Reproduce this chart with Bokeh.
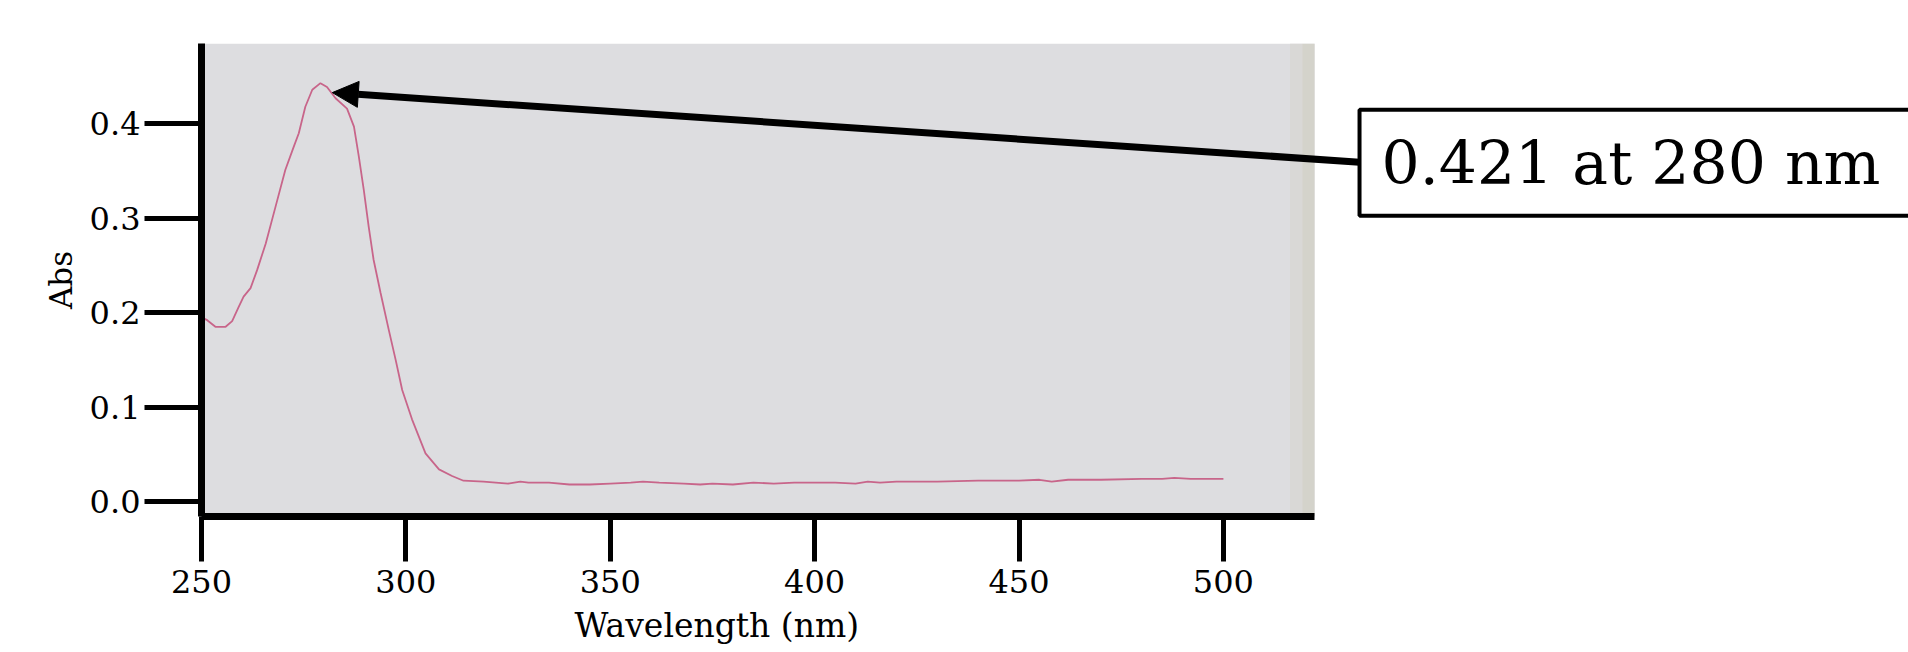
from bokeh.plotting import figure
from bokeh.models import Range1d, FixedTicker, Label, Arrow, NormalHead, Title
from bokeh.embed import file_html
from bokeh.resources import INLINE

# ---- data ----
wavelength = [250.0, 251.4, 253.4, 255.9, 257.5, 259.1, 260.3, 262.0, 263.6, 265.7,
              268.1, 270.5, 272.6, 273.8, 275.4, 277.1, 279.1, 280.7, 282.8, 285.6,
              287.3, 288.5, 289.7, 290.9, 292.1, 293.8, 295.8, 297.5, 299.1, 301.5,
              304.8, 308.1, 311.3, 314.1, 319.0, 325.0, 328.0, 330.0, 335.0, 340.0,
              345.0, 350.0, 355.0, 358.0, 362.0, 368.0, 372.0, 375.0, 380.0, 385.0,
              390.0, 395.0, 400.0, 405.0, 410.0, 413.0, 416.0, 420.0, 425.0, 430.0,
              440.0, 450.0, 455.0, 458.0, 462.0, 470.0, 480.0, 485.0, 488.0, 492.0,
              496.0, 500.0]
absorbance = [0.195, 0.192, 0.185, 0.185, 0.191, 0.206, 0.217, 0.226, 0.245, 0.273,
              0.312, 0.351, 0.376, 0.390, 0.418, 0.436, 0.443, 0.439, 0.427, 0.416,
              0.397, 0.365, 0.330, 0.291, 0.256, 0.221, 0.182, 0.150, 0.118, 0.087,
              0.051, 0.034, 0.027, 0.022, 0.021, 0.019, 0.021, 0.020, 0.020, 0.018,
              0.018, 0.019, 0.020, 0.021, 0.020, 0.019, 0.018, 0.019, 0.018, 0.020,
              0.019, 0.020, 0.020, 0.020, 0.019, 0.021, 0.020, 0.021, 0.021, 0.021,
              0.022, 0.022, 0.023, 0.021, 0.023, 0.023, 0.024, 0.024, 0.025, 0.024,
              0.024, 0.024]

x_ticks = [250, 300, 350, 400, 450, 500]
x_tick_labels = ["250", "300", "350", "400", "450", "500"]
y_ticks = [0.0, 0.1, 0.2, 0.3, 0.4]
y_tick_labels = ["0.0", "0.1", "0.2", "0.3", "0.4"]

peak_label = "0.421 at 280 nm"
peak_point = (282.0, 0.433)      # where the arrow points
box_anchor = (533.3, 0.3588)     # left edge / vertical middle of the call-out box
arrow_start = (533.3, 0.3593)    # where the arrow leaves the box

X_MIN, X_PANEL_END, X_MAX = 250.0, 522.3, 667.6
Y_MIN, Y_MAX = -0.0159, 0.485

FONT = "DejaVu Serif"

p = figure(width=1908, height=652, output_backend="svg", toolbar_location=None,
           x_range=Range1d(X_MIN, X_MAX), y_range=Range1d(Y_MIN, Y_MAX),
           min_border_left=201, min_border_right=0, min_border_top=43,
           min_border_bottom=135)

p.background_fill_color = "white"
p.border_fill_color = "white"
p.outline_line_color = None
p.xgrid.visible = False
p.ygrid.visible = False

# grey photographed chart paper (slightly beige towards its right edge)
p.quad(left=[X_MIN], right=[X_PANEL_END], bottom=[Y_MIN], top=[Y_MAX],
       fill_color="#dddde0", line_color=None)
p.quad(left=[X_PANEL_END - 6.0], right=[X_PANEL_END - 3.0], bottom=[Y_MIN], top=[Y_MAX],
       fill_color="#d9d8d6", line_color=None)
p.quad(left=[X_PANEL_END - 3.0], right=[X_PANEL_END], bottom=[Y_MIN], top=[Y_MAX],
       fill_color="#d4d3cb", line_color=None)

p.line(wavelength, absorbance, line_color="#c8658a", line_width=1.8)

# axes
p.xaxis.ticker = FixedTicker(ticks=x_ticks)
p.xaxis.major_label_overrides = dict(zip(x_ticks, x_tick_labels))
p.xaxis.bounds = (X_MIN, X_PANEL_END)
p.yaxis.ticker = FixedTicker(ticks=y_ticks)
p.yaxis.major_label_overrides = dict(zip(y_ticks, y_tick_labels))

for ax in (p.xaxis[0], p.yaxis[0]):
    ax.axis_line_color = "black"
    ax.axis_line_width = 7
    ax.major_tick_line_color = "black"
    ax.major_tick_line_width = 5
    ax.major_tick_in = 0
    ax.minor_tick_line_color = None
    ax.major_label_text_font = FONT
    ax.major_label_text_font_size = "32px"
    ax.major_label_text_color = "black"
    ax.axis_label_text_font = FONT
    ax.axis_label_text_font_style = "normal"
    ax.axis_label_text_color = "black"

p.xaxis.major_tick_out = 45
p.xaxis.major_label_standoff = 8

p.yaxis.major_tick_out = 57
p.yaxis.major_label_standoff = 4
p.yaxis.axis_label = "Abs"
p.yaxis.axis_label_text_font_size = "31px"
p.yaxis.axis_label_standoff = 8

# x-axis caption, placed left of the frame centre as in the original
p.add_layout(Title(text="Wavelength (nm)", align="left", offset=373,
                   text_font=FONT, text_font_size="33px", text_font_style="normal",
                   text_color="black", standoff=16), "below")

# call-out box and arrow
p.add_layout(Arrow(x_start=arrow_start[0], y_start=arrow_start[1],
                   x_end=peak_point[0], y_end=peak_point[1],
                   line_color="black", line_width=7,
                   end=NormalHead(size=26, fill_color="black", line_color="black",
                                  line_width=1)))

p.add_layout(Label(x=box_anchor[0], y=box_anchor[1], text=peak_label,
                   text_font=FONT, text_font_size="60px", text_color="black",
                   text_align="left", text_baseline="middle",
                   background_fill_color="white", border_line_color="black",
                   border_line_width=4,
                   padding=dict(top=18, right=140, bottom=18, left=22)))

open("out.html", "w").write(file_html(p, INLINE))
